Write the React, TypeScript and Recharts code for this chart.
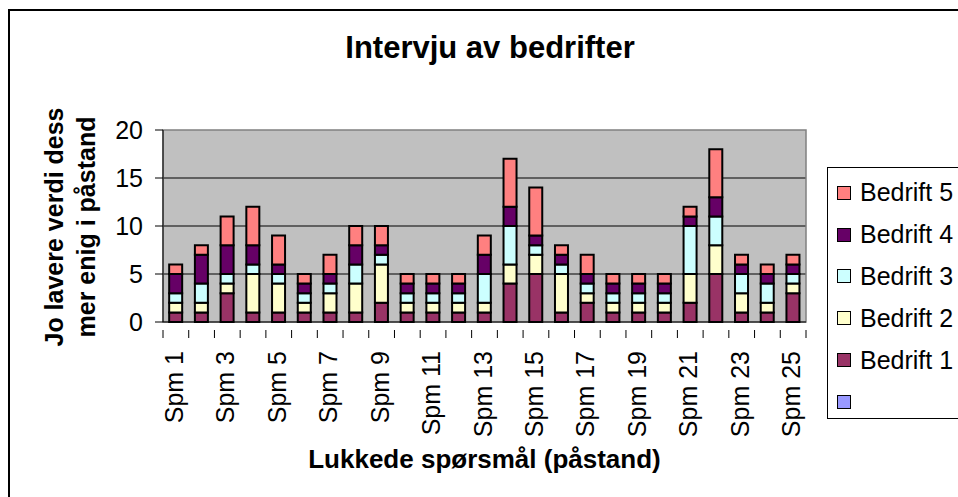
import React from "react"
import {
  BarChart,
  Bar,
  XAxis,
  YAxis,
  CartesianGrid,
  Legend,
  Label,
  ReferenceArea,
  Customized,
} from "recharts"

const categories = [
  "Spm 1", "Spm 2", "Spm 3", "Spm 4", "Spm 5", "Spm 6", "Spm 7", "Spm 8", "Spm 9",
  "Spm 10", "Spm 11", "Spm 12", "Spm 13", "Spm 14", "Spm 15", "Spm 16", "Spm 17",
  "Spm 18", "Spm 19", "Spm 20", "Spm 21", "Spm 22", "Spm 23", "Spm 24", "Spm 25",
]

const bedrift1 = [1, 1, 3, 1, 1, 1, 1, 1, 2, 1, 1, 1, 1, 4, 5, 1, 2, 1, 1, 1, 2, 5, 1, 1, 3]
const bedrift2 = [1, 1, 1, 4, 3, 1, 2, 3, 4, 1, 1, 1, 1, 2, 2, 4, 1, 1, 1, 1, 3, 3, 2, 1, 1]
const bedrift3 = [1, 2, 1, 1, 1, 1, 1, 2, 1, 1, 1, 1, 3, 4, 1, 1, 1, 1, 1, 1, 5, 3, 2, 2, 1]
const bedrift4 = [2, 3, 3, 2, 1, 1, 1, 2, 1, 1, 1, 1, 2, 2, 1, 1, 1, 1, 1, 1, 1, 2, 1, 1, 1]
const bedrift5 = [1, 1, 3, 4, 3, 1, 2, 2, 2, 1, 1, 1, 2, 5, 5, 1, 2, 1, 1, 1, 1, 5, 1, 1, 1]

const yTicks = [0, 5, 10, 15, 20]

const series = [
  { key: "b1", name: "Bedrift 1", color: "#993366", values: bedrift1 },
  { key: "b2", name: "Bedrift 2", color: "#FFFFCC", values: bedrift2 },
  { key: "b3", name: "Bedrift 3", color: "#CCFFFF", values: bedrift3 },
  { key: "b4", name: "Bedrift 4", color: "#660066", values: bedrift4 },
  { key: "b5", name: "Bedrift 5", color: "#FF8080", values: bedrift5 },
]

// legend in Excel shows series top-down plus one empty entry
const legendItems = [
  ...series.map((s) => ({ name: s.name, color: s.color })).reverse(),
  { name: "", color: "#9999FF" },
]

const data = categories.map((c, i) => {
  const row: Record<string, string | number> = { name: c }
  series.forEach((s) => {
    row[s.key] = s.values[i]
  })
  return row
})

const FONT = "'Liberation Sans', Arial, sans-serif"

function XTick(props: any) {
  const { x, y, payload, index } = props
  const half = payload?.offset ?? (958 - 163 - 152) / categories.length / 2
  return (
    <g>
      <line x1={x - half} y1={y} x2={x - half} y2={y + 8} stroke="#000" />
      {index === categories.length - 1 && (
        <line x1={x + half} y1={y} x2={x + half} y2={y + 8} stroke="#000" />
      )}
      {index % 2 === 0 && (
        <text
          transform={`translate(${x + 7},${y + 21}) rotate(-90)`}
          textAnchor="end"
          fontSize={25}
          fontFamily={FONT}
          fill="#000"
        >
          {payload.value}
        </text>
      )}
    </g>
  )
}

function YTitle() {
  const cy = 227
  return (
    <g fontFamily={FONT} fontSize={25} fontWeight="bold" fill="#000">
      <text transform={`translate(63,${cy}) rotate(-90)`} textAnchor="middle">
        Jo lavere verdi dess
      </text>
      <text transform={`translate(95,${cy}) rotate(-90)`} textAnchor="middle">
        mer enig i påstand
      </text>
    </g>
  )
}

function ChartTitle() {
  return (
    <text x={490} y={58} textAnchor="middle" fontFamily={FONT} fontSize={31} fontWeight="bold" fill="#000">
      Intervju av bedrifter
    </text>
  )
}

function LegendBox() {
  return (
    <div
      style={{
        border: "1px solid #000",
        width: 160,
        height: 252,
        boxSizing: "border-box",
        paddingTop: 4,
        background: "#fff",
        fontFamily: FONT,
        fontSize: 25,
        color: "#000",
      }}
    >
      {legendItems.map((it, i) => (
        <div key={i} style={{ height: 41.8, display: "flex", alignItems: "center" }}>
          <span
            style={{
              display: "inline-block",
              width: 12,
              height: 12,
              border: "1.5px solid #000",
              background: it.color,
              marginLeft: 9,
              marginRight: 9,
            }}
          />
          <span>{it.name}</span>
        </div>
      ))}
    </div>
  )
}

export default function App() {
  return (
    <div
      style={{
        position: "absolute",
        left: 0,
        top: 0,
        width: 958,
        height: 497,
        overflow: "hidden",
        background: "#fff",
      }}
    >
      <div
        style={{
          position: "absolute",
          left: 8,
          top: 9,
          width: 1100,
          height: 700,
          border: "2px solid #000",
        }}
      />
      <BarChart
        width={958}
        height={497}
        data={data}
        margin={{ top: 130, right: 152, bottom: 0, left: 0 }}
        barCategoryGap="24%"
      >
        <CartesianGrid vertical={false} horizontalValues={[5, 10, 15]} stroke="#000" fill="#C0C0C0" />
        <ReferenceArea y1={0} y2={20} fill="none" stroke="#808080" strokeWidth={1.5} ifOverflow="visible" />
        <XAxis
          dataKey="name"
          height={175}
          interval={0}
          tickLine={false}
          axisLine={{ stroke: "#000" }}
          tick={<XTick />}
        >
          <Label
            value="Lukkede spørsmål (påstand)"
            position="insideBottom"
            offset={29}
            style={{ fontFamily: FONT, fontSize: 26, fontWeight: "bold", fill: "#000" }}
          />
        </XAxis>
        <YAxis
          width={163}
          domain={[0, 20]}
          ticks={yTicks}
          interval={0}
          tickSize={8}
          tickMargin={12}
          axisLine={{ stroke: "#000" }}
          tickLine={{ stroke: "#000" }}
          tick={{ fontFamily: FONT, fontSize: 25, fill: "#000" }}
        >
          <Label content={<YTitle />} />
        </YAxis>
        {series.map((s) => (
          <Bar
            key={s.key}
            dataKey={s.key}
            name={s.name}
            stackId="a"
            fill={s.color}
            stroke="#000"
            strokeWidth={2}
            isAnimationActive={false}
          />
        ))}
        <Legend
          layout="vertical"
          align="center"
          verticalAlign="middle"
          wrapperStyle={{ left: 827, top: 167, width: 160, height: 252 }}
          content={<LegendBox />}
        />
        <Customized component={<ChartTitle />} />
      </BarChart>
    </div>
  )
}
